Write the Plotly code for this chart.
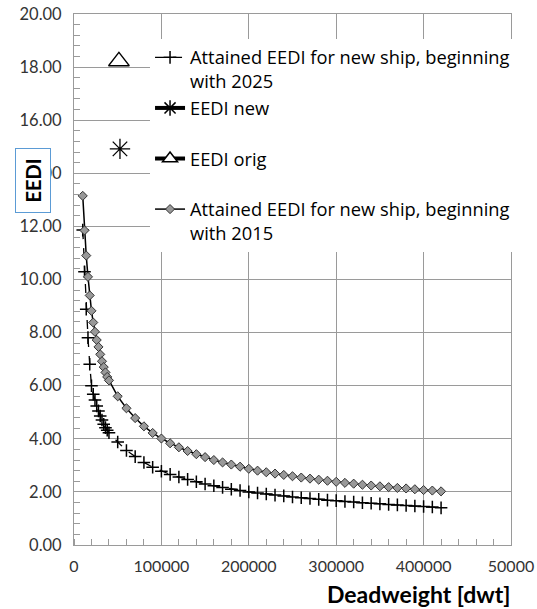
import plotly.graph_objects as go

# ---- data ----
dwt = [10000, 12000, 14000, 16000, 18000, 20000, 22000, 24000, 26000, 28000,
       30000, 32000, 34000, 36000, 38000, 40000,
       50000, 60000, 70000, 80000, 90000, 100000, 110000, 120000, 130000, 140000,
       150000, 160000, 170000, 180000, 190000, 200000, 210000, 220000, 230000, 240000,
       250000, 260000, 270000, 280000, 290000, 300000, 310000, 320000, 330000, 340000,
       350000, 360000, 370000, 380000, 390000, 400000, 410000, 420000]

eedi_2015 = [13.15, 11.85, 10.9, 10.1, 9.4, 8.82, 8.38, 8.03, 7.72, 7.46,
             7.18, 6.92, 6.7, 6.5, 6.33, 6.2,
             5.6, 5.15, 4.78, 4.47, 4.22, 4.01, 3.83, 3.68, 3.54, 3.42,
             3.31, 3.2, 3.11, 3.03, 2.95, 2.87, 2.8, 2.74, 2.69, 2.64,
             2.59, 2.54, 2.5, 2.46, 2.42, 2.38, 2.34, 2.31, 2.27, 2.24,
             2.21, 2.18, 2.15, 2.13, 2.1, 2.07, 2.05, 2.02]

eedi_2025 = [11.86, 10.29, 8.88, 7.81, 6.81, 6.0, 5.68, 5.46, 5.24, 5.05,
             4.86, 4.71, 4.55, 4.42, 4.32, 4.23,
             3.88, 3.56, 3.33, 3.11, 2.93, 2.78, 2.66, 2.56, 2.47, 2.38,
             2.3, 2.23, 2.17, 2.1, 2.05, 2.0, 1.96, 1.92, 1.88, 1.85,
             1.81, 1.78, 1.75, 1.72, 1.69, 1.67, 1.64, 1.62, 1.59, 1.57,
             1.55, 1.53, 1.51, 1.49, 1.47, 1.45, 1.43, 1.40]

orig_x = [51400]
orig_y = [18.22]
new_x = [52600]
new_y = [14.92]

x_ticks = [0, 100000, 200000, 300000, 400000, 500000]
x_ticktext = ["0", "100000", "200000", "300000", "400000", "50000"]

name_2025 = "Attained EEDI for new ship, beginning<br>with 2025"
name_new = "EEDI new<br>\u00a0"
name_orig = "EEDI orig<br>\u00a0"
name_2015 = "Attained EEDI for new ship, beginning<br>with 2015"

FONT = "Lato"
LEGFONT = "Open Sans"
GRID = "#9a9a9a"

fig = go.Figure()

fig.add_trace(go.Scatter(
    x=dwt, y=eedi_2025, mode="lines+markers", name=name_2025,
    line=dict(color="black", width=1.3, dash="dash"),
    marker=dict(symbol="cross-thin", size=9, line=dict(color="black", width=1.5)),
    legendgroup="a"))

fig.add_trace(go.Scatter(
    x=[None], y=[None], mode="lines+markers", name=name_new,
    line=dict(color="black", width=4),
    marker=dict(symbol="asterisk-open", size=13, line=dict(color="black", width=1.5)),
    legendgroup="b"))

fig.add_trace(go.Scatter(
    x=[None], y=[None], mode="lines+markers", name=name_orig,
    line=dict(color="black", width=4),
    marker=dict(symbol="triangle-up", size=13, color="white",
                line=dict(color="black", width=1.5)),
    legendgroup="c"))

fig.add_trace(go.Scatter(
    x=dwt, y=eedi_2015, mode="lines+markers", name=name_2015,
    line=dict(color="black", width=1.5),
    marker=dict(symbol="diamond", size=7, color="#999999",
                line=dict(color="#333333", width=1)),
    legendgroup="d"))

fig.add_trace(go.Scatter(
    x=orig_x, y=orig_y, mode="markers", showlegend=False,
    marker=dict(symbol="triangle-up-open", size=18, color="black",
                line=dict(color="black", width=1.3))))

fig.add_trace(go.Scatter(
    x=new_x, y=new_y, mode="markers", showlegend=False,
    marker=dict(symbol="asterisk-open", size=17, color="black",
                line=dict(color="black", width=1.3))))

fig.update_layout(
    template="none",
    width=537, height=609,
    margin=dict(l=74, r=26, t=14, b=64, autoexpand=False),
    paper_bgcolor="white", plot_bgcolor="white",
    font=dict(family=FONT, size=15, color="#333333"),
    showlegend=True,
    legend=dict(x=0.174, y=0.953, xanchor="left", yanchor="top",
                bgcolor="white", borderwidth=0,
                font=dict(family=LEGFONT, size=18.3, color="black"),
                valign="top", tracegroupgap=0, traceorder="grouped"),
    xaxis=dict(range=[0, 500000], tickvals=x_ticks, ticktext=x_ticktext,
               automargin=False,
               showgrid=True, gridcolor=GRID, gridwidth=1,
               showline=True, linecolor=GRID, linewidth=1, mirror=True,
               ticks="", zeroline=False, ticklabelstandoff=7,
               minor=dict(dtick=20000, ticks="inside", ticklen=6,
                          tickcolor=GRID, showgrid=False),
               tickfont=dict(family=FONT, size=16, color="#333333")),
    yaxis=dict(range=[0, 20], dtick=2, tickformat=".2f",
               automargin=False,
               showgrid=True, gridcolor=GRID, gridwidth=1,
               showline=True, linecolor=GRID, linewidth=1, mirror=True,
               ticks="", zeroline=False, ticklabelstandoff=8,
               minor=dict(dtick=0.4, ticks="inside", ticklen=6,
                          tickcolor=GRID, showgrid=False),
               tickfont=dict(family=FONT, size=16.5, color="#333333")),
    annotations=[
        dict(text="<b>EEDI</b>", xref="paper", yref="paper",
             x=(33 - 74) / 437, y=(545 - 181) / 531,
             xanchor="center", yanchor="middle", textangle=-90,
             showarrow=False, font=dict(family=FONT, size=20, color="black"),
             bgcolor="white", bordercolor="#5b9bd5", borderwidth=1,
             width=61, height=32),
        dict(text="<b>Deadweight [dwt]</b>", xref="paper", yref="paper",
             x=(513 - 74) / 437, y=(545 - 594) / 531,
             xanchor="right", yanchor="middle", showarrow=False,
             font=dict(family=FONT, size=23, color="black")),
    ],
)

fig.write_html("out.html",
               config={"displayModeBar": False},
               post_script="document.body.style.margin='0px';")
